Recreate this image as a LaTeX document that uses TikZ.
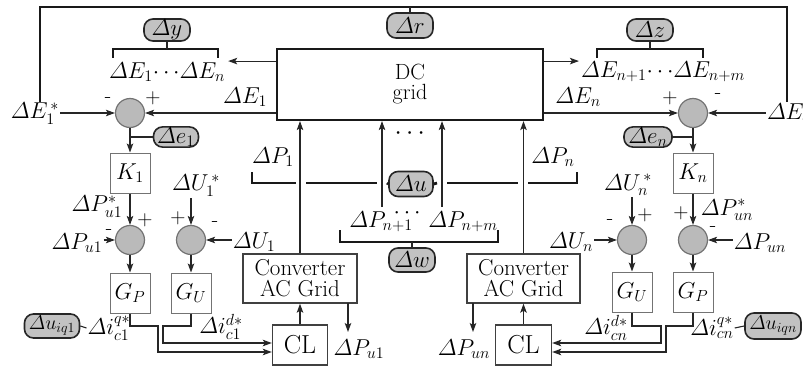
\RequirePackage{fix-cm}
\documentclass[tikz,border=0pt]{standalone}
\usepackage{amsmath}
\usetikzlibrary{arrows.meta,calc}
\newcommand\Dlt{\varDelta}
\begin{document}
\begin{tikzpicture}[x=1pt,y=-1pt,font=\fontsize{23}{25}\selectfont]
\tikzset{
 arr/.style={draw=black!85, line width=1.1pt, -{Stealth[length=9pt,width=6.5pt,inset=2pt]}},
 ln/.style={draw=black!85, line width=1.1pt},
 thk/.style={draw=black!90, line width=2.8pt},
 sumc/.style={circle, draw=black!55, fill=black!27, line width=1.2pt, minimum size=29pt, inner sep=0pt},
 blk/.style={draw=black!55, line width=1pt, minimum width=40pt, minimum height=40pt, inner sep=0pt},
 pill/.style={draw=black!85, fill=black!24, line width=1.6pt, rounded corners=9pt, minimum width=46pt, minimum height=22pt, inner sep=0.5pt},
 lbl/.style={inner sep=1pt},
 sgn/.style={inner sep=0pt, font=\fontsize{21}{21}\selectfont},
 bigbox/.style={draw=black!75, line width=1.4pt, align=center, inner sep=0pt},
}
\useasboundingbox (0,0) rectangle (803,369);

% DC grid
\node[draw=black!90, line width=2.2pt, minimum width=266pt, minimum height=71pt, align=center,
      font=\fontsize{22}{20}\selectfont] (dc) at (410,84.5) {DC\\grid};

% frame and top pill
\coordinate (ftl) at (40,7);
\coordinate (ftr) at (787,7);
\node[lbl] (E1s) at (35,114) {$\Dlt E_1^{\,*}$};
\node[lbl] (Ens) at (791,114) {$\Dlt E_n^{\,*}$};
\draw[thk] (E1s.north -| ftl) -- (ftl) -- (ftr) -- (Ens.north -| ftr);
\node[pill, minimum height=25pt] (dr) at (410,25.5) {$\Dlt r$};
\draw[ln, line width=1.8pt] (dr.north) -- (dr.north |- ftl);

% left top bracket
\node[lbl] (ey) at (167,72) {$\Dlt E_1\!\cdots\!\Dlt E_n$};
\coordinate (byl) at (113,58);
\coordinate (byt) at (167,49);
\coordinate (byr) at (218,58);
\draw[thk] (byl) |- (byt) -| (byr);
\node[pill] (dy) at (167,30) {$\Dlt y$};
\draw[ln, line width=1.8pt] (dy.south) -- (byt);
\draw[arr] ($(dc.north west)!0.18!(dc.south west)$) coordinate (yo) -- ($(ey.east |- yo)+(2,0)$);

% right top bracket
\node[lbl] (ez) at (663,72) {$\Dlt E_{n+1}\!\cdots\!\Dlt E_{n+m}$};
\coordinate (bzl) at (597,58);
\coordinate (bzt) at (650,49);
\coordinate (bzr) at (703,58);
\draw[thk] (bzl) |- (bzt) -| (bzr);
\node[pill] (dz) at (650,30) {$\Dlt z$};
\draw[ln, line width=1.8pt] (dz.south) -- (bzt);
\draw[arr] (yo -| dc.east) -- ($(ez.west |- yo)+(-1,0)$);

% ===== left controller =====
\node[sumc] (s1) at (130,113) {};
\node[blk] (k1) at (130,173) {$K_1$};
\node[sumc] (s2) at (130,240) {};
\node[sumc] (s3) at (191,240) {};
\node[blk] (gp1) at (130,293) {$G_P$};
\node[blk] (gu1) at (191,293) {$G_U$};

\node[lbl] (e1) at (245,97) {$\Dlt E_1$};
\draw[arr] (s1 -| dc.west) -- (s1.east);
\draw[arr] (E1s.east |- s1) -- (s1.west);
\node[sgn] at (108,100) {-};
\node[sgn] at (153,98) {+};
\node[pill, minimum width=45pt, minimum height=20pt] (de1) at (176,137) {$\Dlt e_1$};
\draw[ln] (de1.west) -- (de1.west -| s1);
\draw[arr] (s1.south) -- (k1.north);
\draw[arr] (k1.south) -- (s2.north);
\node[lbl] (pu1s) at (97,207) {$\Dlt P_{u1}^{*}$};
\node[sgn] at (145,220) {+};
\node[sgn] at (109,232) {-};
\node[lbl] (pu1) at (77,243) {$\Dlt P_{u1}$};
\draw[arr] (pu1.east |- s2) -- (s2.west);
\node[lbl] (u1s) at (196,186) {$\Dlt U_1^{\,*}$};
\draw[arr] (u1s.south -| s3) -- (s3.north);
\node[sgn] at (178,218) {+};
\node[sgn] at (215,224) {-};
\node[lbl] (u1) at (254,242) {$\Dlt U_1$};
\draw[arr] (u1.west |- s3) -- (s3.east);
\draw[arr] (s2.south) -- (gp1.north);
\draw[arr] (s3.south) -- (gu1.north);

\node[pill, minimum width=55pt, minimum height=24pt, font=\fontsize{20}{20}\selectfont] (diq1) at (52,326) {$\Dlt u_{iq1}$};
\node[lbl] (iq1) at (109,328) {$\Dlt i_{c1}^{q*}$};
\draw[ln] (diq1.east) -- (iq1.west);
\node[lbl] (id1) at (221,327) {$\Dlt i_{c1}^{d*}$};

% left converter
\node[bigbox, minimum width=114pt, minimum height=49pt, font=\fontsize{23}{21}\selectfont] (cv1) at (300,278.5) {Converter\\AC Grid};
\node[bigbox, minimum width=55pt, minimum height=40pt, font=\fontsize{26}{26}\selectfont] (cl1) at (300,345) {CL};
\draw[arr] (cl1.north) -- (cv1.south);
\draw[arr] (cv1.north) -- (cv1.north |- dc.south);
\coordinate (pa1) at (348,303);
\coordinate (pb1) at (348,332);
\draw[arr] (pa1) -- (pb1);
\node[lbl] (pu1b) at (359,349) {$\Dlt P_{u1}$};
\draw[arr] (gp1.south) |- (158,326) |- ($(cl1.west)+(0,7)$);
\draw[arr] (gu1.south) |- (163,326) |- ($(cl1.west)+(0,-2)$);

% ===== right controller =====
\node[sumc] (sn) at (693,113) {};
\node[blk] (kn) at (693,173) {$K_n$};
\node[sumc] (spn) at (693,240) {};
\node[sumc] (sun) at (632,240) {};
\node[blk] (gpn) at (693,292) {$G_P$};
\node[blk] (gun) at (632,292) {$G_U$};

\node[lbl] (en) at (578,97) {$\Dlt E_n$};
\draw[arr] (sn -| dc.east) -- (sn.west);
\draw[arr] (Ens.west |- sn) -- (sn.east);
\node[sgn] at (670,98) {+};
\node[sgn] at (718,96) {-};
\node[pill, minimum width=48pt, minimum height=20pt] (den) at (648,137) {$\Dlt e_n$};
\draw[ln] (den.east) -- (den.east -| sn);
\draw[arr] (sn.south) -- (kn.north);
\draw[arr] (kn.south) -- (spn.north);
\node[lbl] (puns) at (727,210) {$\Dlt P_{un}^{*}$};
\node[sgn] at (681,213) {+};
\node[sgn] at (713,229) {-};
\node[lbl] (pun) at (760,243) {$\Dlt P_{un}$};
\draw[arr] (pun.west |- spn) -- (spn.east);
\node[lbl] (uns) at (628,185) {$\Dlt U_n^{\,*}$};
\draw[arr] (uns.south -| sun) -- (sun.north);
\node[sgn] at (645,215) {+};
\node[sgn] at (610,222) {-};
\node[lbl] (un) at (571,242) {$\Dlt U_n$};
\draw[arr] (un.east |- sun) -- (sun.west);
\draw[arr] (spn.south) -- (gpn.north);
\draw[arr] (sun.south) -- (gun.north);

\node[pill, minimum width=56pt, minimum height=26pt, font=\fontsize{20}{20}\selectfont] (diqn) at (773,326) {$\Dlt u_{iqn}$};
\node[lbl] (iqn) at (712,328) {$\Dlt i_{cn}^{q*}$};
\draw[ln] (iqn.east) -- (diqn.west);
\node[lbl] (idn) at (606,328) {$\Dlt i_{cn}^{d*}$};

% right converter
\node[bigbox, minimum width=113pt, minimum height=49pt, font=\fontsize{23}{21}\selectfont] (cv2) at (523.5,278.5) {Converter\\AC Grid};
\node[bigbox, minimum width=56pt, minimum height=40pt, font=\fontsize{26}{26}\selectfont] (cl2) at (523.5,345) {CL};
\draw[arr] (cl2.north) -- (cv2.south);
\draw[arr] (cv2.north) -- (cv2.north |- dc.south);
\coordinate (pan) at (473,303);
\coordinate (pbn) at (473,332);
\draw[arr] (pan) -- (pbn);
\node[lbl] (punb) at (464,349) {$\Dlt P_{un}$};
\draw[arr] (gun.south) |- (661,326) |- ($(cl2.east)+(0,-2)$);
\draw[arr] (gpn.south) |- (666,326) |- ($(cl2.east)+(0,7)$);

% ===== middle: Delta u, Delta w =====
\node[lbl] (p1) at (273,157) {$\Dlt P_1$};
\node[lbl] (pn) at (553,157) {$\Dlt P_n$};
\node[font=\fontsize{26}{26}\selectfont] (dots) at (412,134) {$\cdots$};
\coordinate (v2) at (382,207);
\coordinate (v3) at (442,207);
\draw[arr] (v2) -- (v2 |- dc.south);
\draw[arr] (v3) -- (v3 |- dc.south);
\node[pill, minimum width=44pt, minimum height=25pt] (du) at (411,184) {$\Dlt u$};
\draw[thk] (252,172) -- (252,183) -- (296,183);
\draw[thk] (306,183) -- (377,183);
\draw[thk] (387,183) -- (du.west);
\draw[thk] (du.east) -- (437,183);
\draw[thk] (447,183) -- (518,183);
\draw[thk] (528,183) -- (577,183) -- (577,172);

\node[lbl] (pn1) at (381,222) {$\Dlt P_{n+1}$};
\node[lbl] (pnm) at (463,222) {$\Dlt P_{n+m}$};
\node[lbl] (dots2) at (409,213) {$\cdots$};
\coordinate (bwl) at (340,230);
\coordinate (bwb) at (412,242);
\coordinate (bwr) at (498,230);
\draw[thk] (bwl) |- (bwb) -| (bwr);
\node[pill, minimum width=46pt, minimum height=24pt] (dw) at (412,260) {$\Dlt w$};
\draw[ln, line width=1.8pt] (bwb) -- (dw.north);
\end{tikzpicture}
\end{document}
